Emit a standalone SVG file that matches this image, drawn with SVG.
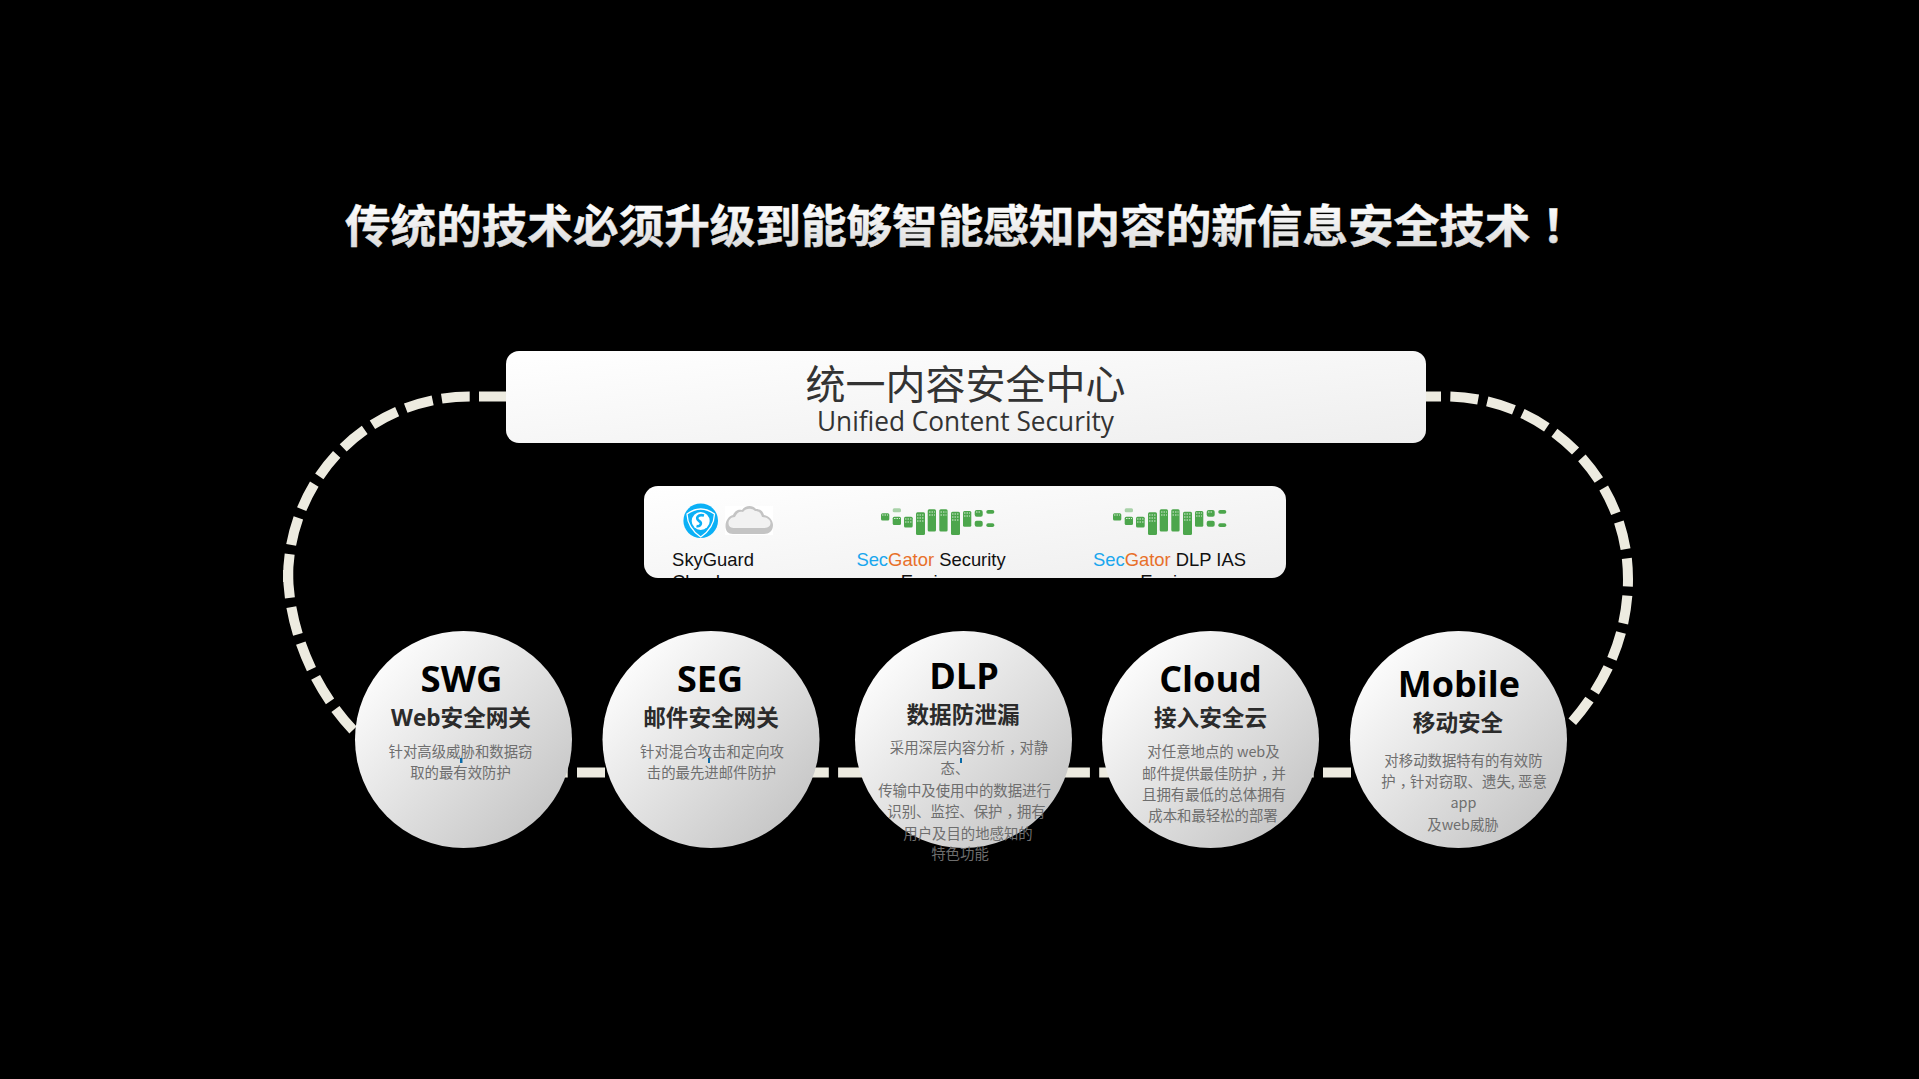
<svg xmlns="http://www.w3.org/2000/svg" xmlns:xlink="http://www.w3.org/1999/xlink" width="1919" height="1079" viewBox="0 0 1919 1079">
<style>
.cjk{font-family:"Noto Sans CJK SC","Noto Sans",sans-serif}
.lat{font-family:"Open Sans","Noto Sans CJK SC",sans-serif}
.mix{font-family:"Open Sans","Noto Sans CJK SC",sans-serif}
.ar{font-family:"Liberation Sans","Noto Sans CJK SC",sans-serif;font-size:18.4px;fill:#111}
.tc{font-family:"Noto Sans CJK TC","Noto Sans",sans-serif}
text{text-anchor:middle}
.h1{font-size:36px;font-weight:700;fill:#000}
.h2{font-size:22.6px;font-weight:700;fill:#2b2b2b}
.d{font-size:14.4px;fill:#6e6e6e}
.circle{fill:url(#cg)}
.dash{fill:none;stroke:#edebe0;stroke-width:10;stroke-dasharray:28 9.3}
.b{fill:#4ca64c}
.bl{fill:#a9d2a9}
.dots{stroke:#d5ead5;stroke-width:1;stroke-dasharray:1.5 1;fill:none}
.cur{fill:#0a6aa8}
</style>
<defs>
<linearGradient id="cg" x1="0.15" y1="0.15" x2="0.85" y2="0.85"><stop offset="0" stop-color="#fbfbfb"/><stop offset="1" stop-color="#c8c8c8"/></linearGradient>
<linearGradient id="rg" x1="0" y1="0" x2="1" y2="1"><stop offset="0" stop-color="#ffffff"/><stop offset="1" stop-color="#eeeeee"/></linearGradient>
<linearGradient id="tg" x1="0" y1="0" x2="0" y2="1"><stop offset="0.2" stop-color="#ffffff"/><stop offset="1" stop-color="#d6d6d6"/></linearGradient>
<clipPath id="cardclip"><rect x="644" y="486" width="642" height="92" rx="14"/></clipPath>
<g id="eq">
<rect class="b" x="11" y="13.3" width="8.3" height="7.3" rx="1.5"/>
<rect class="bl" x="22.7" y="8.3" width="8.3" height="4" rx="1.5"/>
<rect class="b" x="22.7" y="16.7" width="8.3" height="8.3" rx="1.5"/>
<rect class="b" x="34" y="16.7" width="8.7" height="10.7" rx="1.5"/>
<rect class="b" x="46" y="12.3" width="9" height="22.7" rx="1.5"/>
<rect class="b" x="57.7" y="9.3" width="8.3" height="22.3" rx="1.5"/>
<rect class="b" x="69.3" y="9.3" width="8.3" height="22.3" rx="1.5"/>
<rect class="b" x="81" y="11.7" width="9" height="23.3" rx="1.5"/>
<rect class="b" x="93" y="11" width="8.3" height="15.7" rx="1.5"/>
<rect class="b" x="104.7" y="10" width="8" height="6.7" rx="2"/>
<rect class="b" x="104.7" y="20.7" width="8" height="6" rx="2"/>
<rect class="b" x="116.3" y="10" width="8" height="3.7" rx="1.8"/>
<rect class="b" x="116.3" y="23.3" width="8" height="3.7" rx="1.8"/>
<path class="dots" d="M12 15h6M24 18.5h6M35 19h7M35 22h7M47 15h7M47 18h7M47 21h7M59 12h6M59 15h6M70.500 12h6M70.500 15h6M82 14h7M82 17h7M82 20h7M94 13h6M94 16h6M106 12h5"/>
</g>
</defs>
<rect width="1919" height="1079" fill="#000"/>

<text id="title" class="cjk" x="345" y="243" font-size="45.6" font-weight="700" fill="url(#tg)" stroke="url(#tg)" stroke-width="0.5" style="text-anchor:start">传统的技术必须升级到能够智能感知内容的新信息安全技术<tspan class="tc">！</tspan></text>

<g id="connectors">
<path class="dash" d="M507 396.500 H470 C369 396.500 288 478 288 579 V583"/>
<path class="dash" d="M288 570 C288 630 315 690 353 730"/>
<path class="dash" d="M1413 396.500 H1445 C1546 396.500 1628 478 1628 579 C1628 635 1606 683 1572 722"/>
<path class="dash" d="M539.700 772.500 H1352"/>
</g>

<g id="unified">
<rect x="506" y="351" width="920" height="92" rx="13" fill="url(#rg)"/>
<text class="cjk" x="965.500" y="399" font-size="40" fill="#333">统一内容安全中心</text>
<text class="lat" x="965.500" y="431" font-size="26.500" fill="#333" textLength="297" lengthAdjust="spacingAndGlyphs">Unified Content Security</text>
</g>

<g id="products">
<rect x="644" y="486" width="642" height="92" rx="14" fill="url(#rg)"/>
<g id="skyguard-icon">
<circle cx="700.700" cy="520.700" r="17.300" fill="#0bb0f6"/>
<path d="M687 514 Q700.700 504 714.500 514 Q714 528 700.700 537 Q687.500 528 687 514Z" fill="none" stroke="#fff" stroke-width="1.300"/>
<circle cx="700.700" cy="521" r="9" fill="#fff"/>
<path d="M704 515.500 C698 514 695 518 699 521 C703 523 700 527 696.500 526" fill="none" stroke="#0bb0f6" stroke-width="2.600"/>
<rect x="725" y="506" width="48" height="29" fill="#fff"/>
<path d="M725.500 526 C725.500 520 729 516 733 515 C735 510 739 509 742 510 C745 505 753 505 756 509 C760 509 763 511 764 515 C769 516 773 520 773 525 C773 531 769 534 764 534 H733 C728 534 725.500 531 725.500 526Z" fill="#c4c4c4"/>
<path d="M728.500 523 C728.500 520 731 517 735 517 C737 512 740 511 743 512 C746 508 752 508 755 511 C759 511 761 513 762 517 C767 517 770.500 520 770.500 523 C770.500 527 767 528 763 528 H735 C731 528 728.500 527 728.500 523Z" fill="#f2f2f2"/>
</g>
<use xlink:href="#eq" href="#eq" x="870" y="500"/>
<use xlink:href="#eq" href="#eq" x="1102" y="500"/>
<g clip-path="url(#cardclip)">
<text class="ar" x="713" y="566">SkyGuard</text>
<text class="ar" x="672" y="588" style="text-anchor:start">Cloud</text>
<text class="ar" x="931" y="566"><tspan fill="#1aa7ee">Sec</tspan><tspan fill="#e8702a">Gator</tspan> Security</text>
<text class="ar" x="929.500" y="588">Engine</text>
<text class="ar" x="1169.500" y="566"><tspan fill="#1aa7ee">Sec</tspan><tspan fill="#e8702a">Gator</tspan> DLP IAS</text>
<text class="ar" x="1169" y="588">Engine</text>
</g>
</g>

<g id="swg">
<circle class="circle" cx="463.500" cy="739.500" r="108.500"/>
<text class="lat h1" x="461.500" y="692" textLength="82" lengthAdjust="spacingAndGlyphs">SWG</text>
<text class="mix h2" x="461" y="726">Web安全网关</text>
<text class="cjk d" x="460.500" y="757">针对高级威胁和数据窃</text>
<text class="cjk d" x="460.500" y="778">取的最有效防护</text>
<rect class="cur" x="460" y="758" width="2.500" height="5"/>
</g>
<g id="seg">
<circle class="circle" cx="711" cy="739.500" r="108.500"/>
<text class="lat h1" x="710" y="692">SEG</text>
<text class="cjk h2" x="711" y="726">邮件安全网关</text>
<text class="cjk d" x="712" y="757">针对混合攻击和定向攻</text>
<text class="cjk d" x="711.500" y="778">击的最先进邮件防护</text>
<rect class="cur" x="708" y="758" width="2" height="5"/>
</g>
<g id="dlp">
<circle class="circle" cx="963.500" cy="739.500" r="108.500"/>
<text class="lat h1" x="964" y="689">DLP</text>
<text class="cjk h2" x="963" y="723">数据防泄漏</text>
<text class="cjk d" x="969" y="753">采用深层内容分析<tspan dx="4">，</tspan><tspan dx="-4">对静</tspan></text>
<text class="cjk d" x="955" y="774">态、</text>
<text class="cjk d" x="964.500" y="796">传输中及使用中的数据进行</text>
<text class="cjk d" x="966.500" y="817">识别、监控、保护<tspan dx="4">，</tspan><tspan dx="-4">拥有</tspan></text>
<text class="cjk d" x="968" y="839">用户及目的地感知的</text>
<text class="cjk d" x="960" y="859">特色功能</text>
<rect class="cur" x="960" y="758" width="2" height="5"/>
</g>
<g id="cloud">
<circle class="circle" cx="1210.500" cy="739.500" r="108.500"/>
<text class="lat h1" x="1210.500" y="692">Cloud</text>
<text class="cjk h2" x="1210.500" y="726">接入安全云</text>
<text class="cjk d" x="1213.500" y="757">对任意地点的 web及</text>
<text class="cjk d" x="1214" y="779">邮件提供最佳防护<tspan dx="4">，</tspan><tspan dx="-4">并</tspan></text>
<text class="cjk d" x="1214" y="800">且拥有最低的总体拥有</text>
<text class="cjk d" x="1213" y="821">成本和最轻松的部署</text>
</g>
<g id="mobile">
<circle class="circle" cx="1458.500" cy="739.500" r="108.500"/>
<text class="lat h1" x="1459" y="697">Mobile</text>
<text class="cjk h2" x="1458" y="731">移动安全</text>
<text class="cjk d" x="1463.500" y="766">对移动数据特有的有效防</text>
<text class="cjk d" x="1464" y="787">护<tspan dx="4">，</tspan><tspan dx="-4">针对窃取、遗失, 恶意</tspan></text>
<text class="cjk d" x="1463.500" y="808">app</text>
<text class="cjk d" x="1463" y="830">及web威胁</text>
</g>
</svg>
